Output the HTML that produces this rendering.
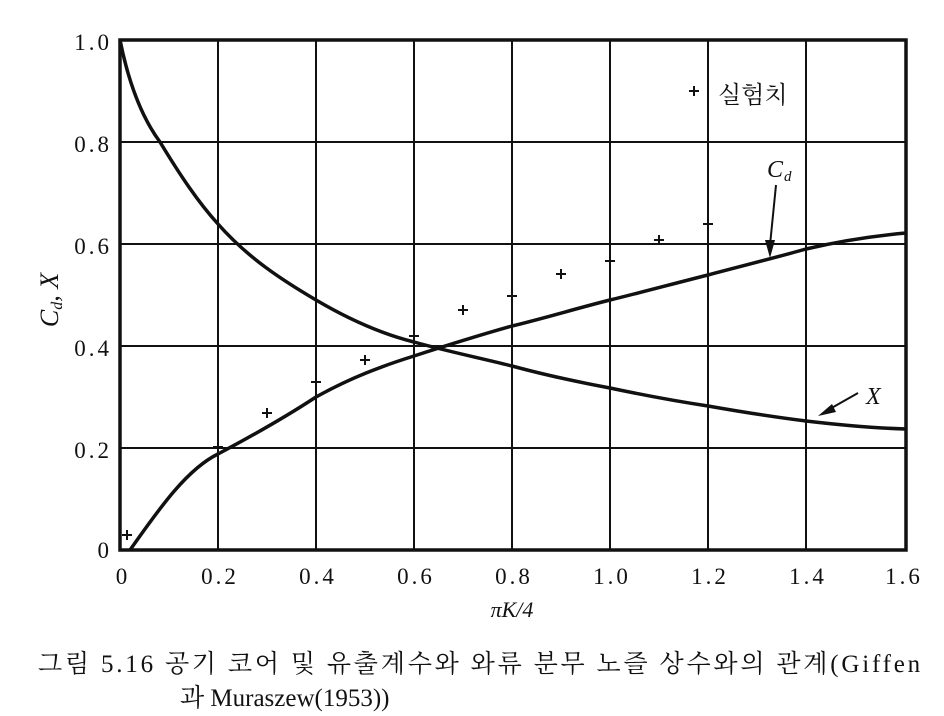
<!DOCTYPE html>
<html><head><meta charset="utf-8"><style>
html,body{margin:0;padding:0;background:#fff;}
svg{display:block;}
</style></head><body>
<svg width="944" height="716" xmlns="http://www.w3.org/2000/svg">
<rect width="944" height="716" fill="#fff"/>
<g stroke="#111" stroke-width="2" fill="none">
<line x1="218" y1="40" x2="218" y2="550"/>
<line x1="316" y1="40" x2="316" y2="550"/>
<line x1="414" y1="40" x2="414" y2="550"/>
<line x1="512" y1="40" x2="512" y2="550"/>
<line x1="610" y1="40" x2="610" y2="550"/>
<line x1="708" y1="40" x2="708" y2="550"/>
<line x1="806" y1="40" x2="806" y2="550"/>
<line x1="120" y1="142" x2="906" y2="142"/>
<line x1="120" y1="244" x2="906" y2="244"/>
<line x1="120" y1="346" x2="906" y2="346"/>
<line x1="120" y1="448" x2="906" y2="448"/>
</g>
<rect x="120" y="40" width="786" height="510" fill="none" stroke="#111" stroke-width="3.5"/>
<path d="M120,40 C128,80 140,115 160,142 C180,175 198,202 218,224 C248,258 282,280 316,300 C350,320 382,334 414,342 C446,351 480,358 512,366 C545,375 578,382 610,388 C643,395 675,401 708,406 C742,412 774,417 806,421 C840,425 872,428 906,429" stroke="#111" stroke-width="3.5" fill="none"/>
<path d="M130,550 C155,515 185,470 218,454 C250,437 284,418 316,397 C350,378 382,366 414,356 C448,345 480,335 512,326 C545,318 578,308 610,300 C643,292 676,283 708,275 C742,266 774,258 806,249 C840,241 872,236 906,233" stroke="#111" stroke-width="3.5" fill="none"/>
<g stroke="#111" stroke-width="2">
<path d="M122,535h10M127,530v10"/>
<path d="M213,447h10M218,442v10"/>
<path d="M262,413h10M267,408v10"/>
<path d="M311,382h10M316,377v10"/>
<path d="M360,360h10M365,355v10"/>
<path d="M409,336h10M414,331v10"/>
<path d="M458,310h10M463,305v10"/>
<path d="M507,296h10M512,291v10"/>
<path d="M556,274h10M561,269v10"/>
<path d="M605,261h10M610,256v10"/>
<path d="M654,240h10M659,235v10"/>
<path d="M703,224h10M708,219v10"/>
<path d="M689,91h10M694,86v10"/>
</g>
<line x1="776" y1="185" x2="770" y2="245" stroke="#111" stroke-width="2"/>
<path d="M765,240 L770,258 L775,240 Z" fill="#111"/>
<line x1="858" y1="393" x2="828" y2="410" stroke="#111" stroke-width="2"/>
<path d="M818,416 L832,404 L836,412 Z" fill="#111"/>
<g font-family="Liberation Serif, serif" fill="#111">
<text x="767" y="177" font-size="24" font-style="italic">C</text><text x="784" y="181" font-size="15" font-style="italic">d</text>
<text x="866" y="404" font-size="24" font-style="italic">X</text>
<g font-size="23" text-anchor="end" letter-spacing="3">
<text x="112" y="50">1.0</text>
<text x="112" y="152">0.8</text>
<text x="112" y="254">0.6</text>
<text x="112" y="356">0.4</text>
<text x="112" y="458">0.2</text>
<text x="112" y="558">0</text>
</g>
<g font-size="23" text-anchor="middle" letter-spacing="3">
<text x="123" y="584">0</text>
<text x="220" y="584">0.2</text>
<text x="318" y="584">0.4</text>
<text x="416" y="584">0.6</text>
<text x="514" y="584">0.8</text>
<text x="612" y="584">1.0</text>
<text x="710" y="584">1.2</text>
<text x="808" y="584">1.4</text>
<text x="904" y="584">1.6</text>
</g>
<text x="512" y="617" font-size="22" font-style="italic" text-anchor="middle">πK/4</text>
<g transform="translate(58,300) rotate(-90)"><text x="0" y="0" font-size="26" font-style="italic" text-anchor="middle">C<tspan font-size="16" dy="4">d</tspan><tspan dy="-4">,    X</tspan></text></g>
</g>
<g font-family="Liberation Serif, 'Noto Serif CJK SC', 'Noto Sans CJK KR', serif" fill="#111">
<text x="718" y="103" font-size="24">실험치</text>
<text x="38" y="672" font-size="25" letter-spacing="2.8">그림 5.16  공기 코어 및 유출계수와 와류 분무 노즐 상수와의 관계(Giffen</text>
<text x="180" y="706" font-size="25">과 Muraszew(1953))</text>
</g>
</svg>
</body></html>
